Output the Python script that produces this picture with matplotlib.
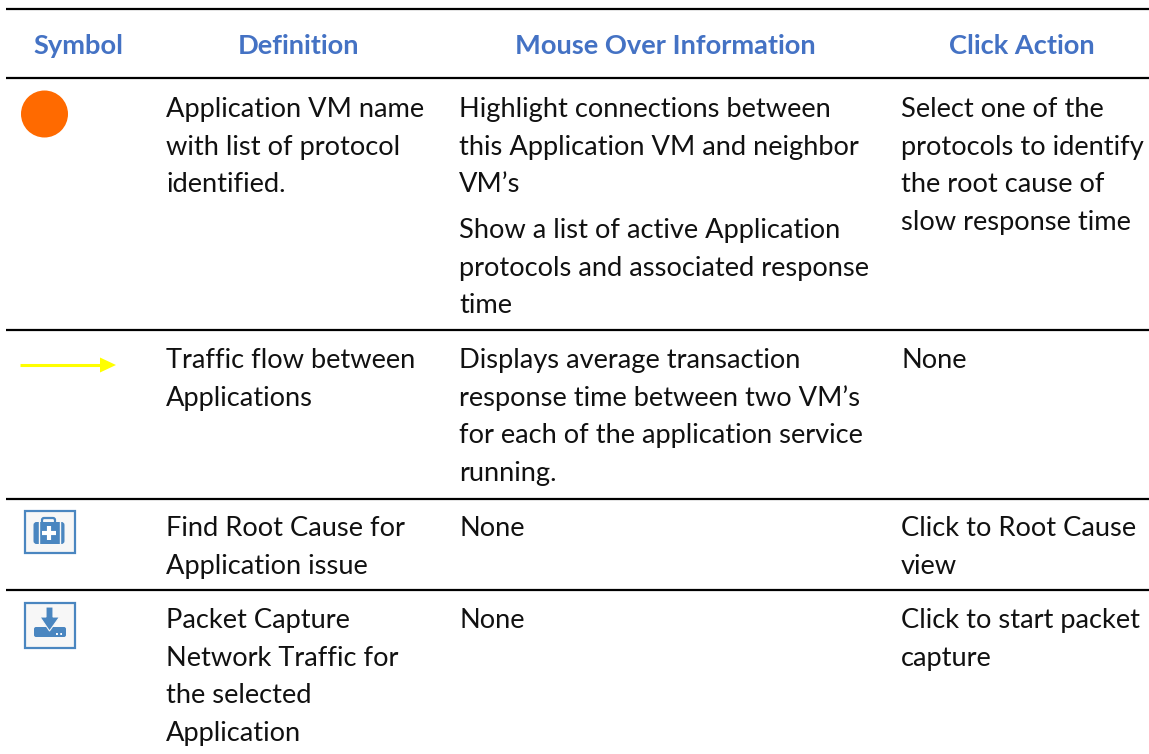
# -*- coding: UTF-8 -*-
'''
Symbol table, drawn in pixel coordinates
'''
import matplotlib
matplotlib.use('Agg')
import matplotlib.pyplot as plt
from matplotlib.patches import Circle, Rectangle, FancyBboxPatch, Polygon

headers = ['Symbol', 'Definition', 'Mouse Over Information', 'Click Action']
definitions = [
    ['Application VM name', 'with list of protocol', 'identified.'],
    ['Traffic flow between', 'Applications'],
    ['Find Root Cause for', 'Application issue'],
    ['Packet Capture', 'Network Traffic for', 'the selected', 'Application'],
]
mouse_over = [
    ['Highlight connections between', 'this Application VM and neighbor', 'VM’s'],
    ['Displays average transaction', 'response time between two VM’s', 'for each of the application service', 'running.'],
    ['None'],
    ['None'],
]
mouse_over_extra = ['Show a list of active Application', 'protocols and associated response', 'time']
click_action = [
    ['Select one of the', 'protocols to identify', 'the root cause of', 'slow response time'],
    ['None'],
    ['Click to Root Cause', 'view'],
    ['Click to start packet', 'capture'],
]

plt.rcParams['font.family'] = ['Lato', 'DejaVu Sans']
BLUE = '#4472c4'
ICON = '#4a86c0'
PALE = '#f7f7f7'
FS = 19.6
STEP = 37.7

fig = plt.figure(figsize=(11.49, 7.54), dpi=100)
ax = fig.add_axes([0, 0, 1, 1])
ax.set_xlim(0, 1149)
ax.set_ylim(754, 0)
ax.axis('off')

# rules
for y in [9, 78, 330, 499, 590]:
    ax.plot([6, 1149], [y, y], color='black', lw=1.6, solid_capstyle='butt')

# header
for x, h in zip([78.5, 298, 665.5, 1021.5], headers):
    ax.text(x, 46, h, color=BLUE, fontsize=19.6, fontweight='bold', ha='center', va='center')


def block(x, y, lines):
    for i, s in enumerate(lines):
        ax.text(x, y + i * STEP, s, color='#111111', fontsize=FS, va='center_baseline')


row_y = [107, 358, 526, 618]
for i in range(4):
    block(166, row_y[i], definitions[i])
    block(459, row_y[i], mouse_over[i])
    block(901, row_y[i], click_action[i])
block(459, 228, mouse_over_extra)

# symbols
ax.add_patch(Circle((44.5, 114), 23.5, color='#ff6a00', lw=0))
ax.plot([20, 102], [365, 365], color='#ffff00', lw=2.2, solid_capstyle='butt')
ax.add_patch(Polygon([[100, 357.5], [116, 365], [100, 372.5]], color='#ffff00', lw=0))

# root cause icon
ax.add_patch(Rectangle((24.5, 510.5), 50, 42.5, fc=PALE, ec=ICON, lw=1.6))
ax.add_patch(FancyBboxPatch((33.5, 522), 31, 22, boxstyle='round,pad=0,rounding_size=3', fc=ICON, ec='none'))
ax.add_patch(FancyBboxPatch((42, 518), 13, 6, boxstyle='round,pad=0,rounding_size=2', fc='none', ec=ICON, lw=1.6))
ax.plot([38.5, 38.5], [522, 544], color=PALE, lw=1)
ax.plot([59.5, 59.5], [522, 544], color=PALE, lw=1)
ax.plot([48.5, 48.5], [526, 540], color='white', lw=3, solid_capstyle='butt')
ax.plot([41.5, 55.5], [533, 533], color='white', lw=3, solid_capstyle='butt')

# packet capture icon
ax.add_patch(Rectangle((24.5, 603), 50, 45, fc=PALE, ec=ICON, lw=1.6))
ax.add_patch(FancyBboxPatch((34, 627), 32, 10, boxstyle='round,pad=0,rounding_size=2', fc=ICON, ec='none'))
ax.add_patch(Polygon([[46, 607], [53, 607], [53, 617], [59.5, 617], [49.5, 631], [40, 617], [46, 617]],
                     fc=ICON, ec=PALE, lw=0.8))
ax.plot([56, 62], [633.5, 633.5], color='white', lw=1.4, ls=(0, (1, 1.2)))

fig.savefig('out.png', dpi=100)
